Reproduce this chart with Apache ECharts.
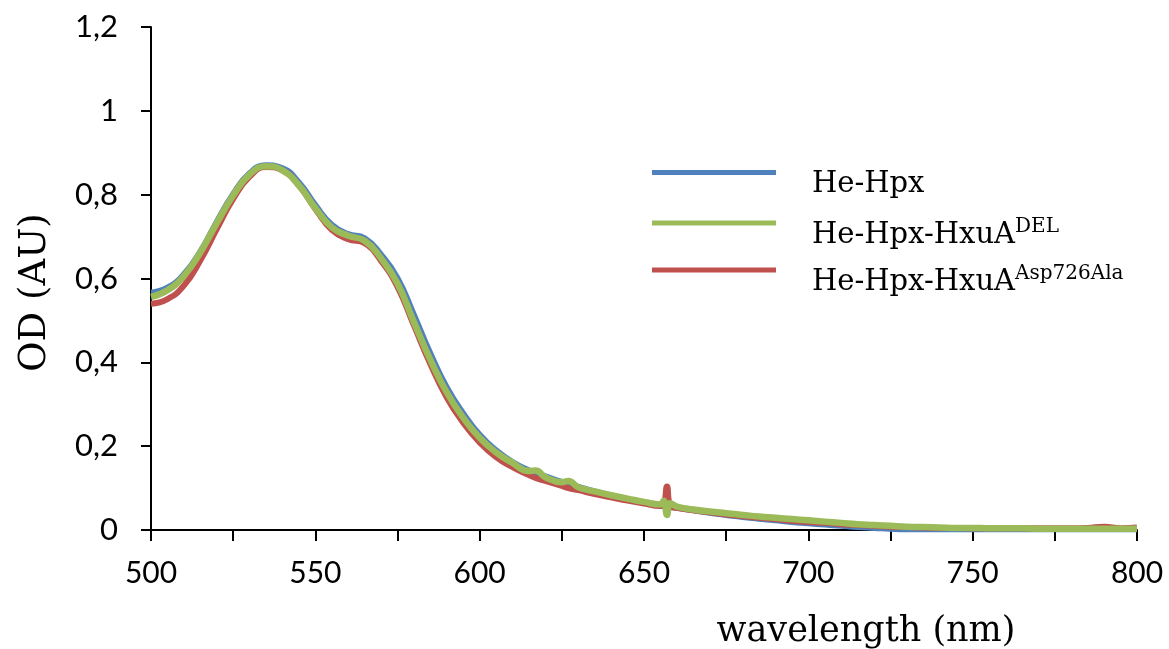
<!DOCTYPE html>
<html>
<head>
<meta charset="utf-8">
<script src="https://cdn.jsdelivr.net/npm/echarts@6/dist/echarts.min.js"></script>
<style>
html,body{margin:0;padding:0;background:#fff;}
#chart{width:1169px;height:649px;}
</style>
</head>
<body>
<div id="chart"></div>
<script>
// wavelength (nm)
const wavelengths = [500,505,510,515,520,525,530,535,540,545,550,555,560,565,570,575,580,585,590,595,600,605,610,615,617,620,625,627,630,635,640,645,650,655,656,657,658,660,665,670,675,680,685,690,695,700,705,710,715,720,725,730,735,740,745,750,755,760,765,770,775,780,785,790,795,800];

// He-Hpx (blue)
const heHpx = [0.566,0.578,0.610,0.664,0.735,0.801,0.851,0.870,0.863,0.829,0.775,0.728,0.706,0.696,0.657,0.601,0.513,0.421,0.340,0.278,0.227,0.190,0.162,0.142,0.136,0.128,0.115,0.111,0.103,0.092,0.082,0.073,0.065,0.058,0.057,0.056,0.055,0.053,0.047,0.041,0.036,0.031,0.027,0.023,0.019,0.016,0.013,0.010,0.007,0.005,0.003,0.002,0.002,0.002,0.002,0.002,0.002,0.002,0.002,0.002,0.002,0.002,0.002,0.002,0.002,0.002];

// He-Hpx-HxuA DEL (green)
const heHpxDel = [0.556,0.572,0.606,0.662,0.732,0.798,0.848,0.868,0.858,0.822,0.768,0.722,0.702,0.690,0.648,0.588,0.496,0.406,0.328,0.268,0.220,0.185,0.160,0.141,0.142,0.126,0.114,0.117,0.102,0.092,0.083,0.075,0.067,0.061,0.070,0.036,0.064,0.056,0.049,0.044,0.040,0.036,0.032,0.029,0.026,0.023,0.020,0.017,0.014,0.012,0.010,0.008,0.007,0.006,0.005,0.005,0.004,0.004,0.004,0.003,0.003,0.003,0.003,0.003,0.003,0.003];

// He-Hpx-HxuA Asp726Ala (red)
const heHpxAsp = [0.540,0.551,0.583,0.643,0.718,0.790,0.843,0.866,0.858,0.822,0.766,0.716,0.694,0.684,0.642,0.580,0.488,0.396,0.316,0.256,0.209,0.174,0.150,0.131,0.124,0.117,0.105,0.100,0.095,0.086,0.078,0.070,0.063,0.057,0.060,0.104,0.058,0.053,0.047,0.042,0.037,0.033,0.029,0.026,0.022,0.019,0.017,0.014,0.012,0.010,0.008,0.007,0.006,0.005,0.005,0.004,0.004,0.004,0.004,0.004,0.004,0.004,0.005,0.008,0.004,0.006];

const seriesNames = ['He-Hpx', 'He-Hpx-HxuA DEL', 'He-Hpx-HxuA Asp726Ala'];
const legendTexts = ['{m|He-Hpx}', '{m|He-Hpx-HxuA}{s|DEL}', '{m|He-Hpx-HxuA}{s|Asp726Ala}'];
const colors = ['#4F81BD', '#9BBB59', '#C0504D'];
const xTicks = [500, 550, 600, 650, 700, 750, 800];

const pair = arr => wavelengths.map((w, i) => [w, arr[i]]);
const chart = echarts.init(document.getElementById('chart'), null, {renderer: 'canvas'});

const labelFont = 'Lato';
const serif = 'DejaVu Serif';

function legendFor(i, top) {
  return {
    orient: 'vertical', left: 652, top: top, padding: 0,
    data: [seriesNames[i]],
    icon: 'rect', itemWidth: 124, itemHeight: 5,
    selectedMode: false,
    formatter: () => legendTexts[i],
    textStyle: {
      padding: [24, 0, 0, 31],
      rich: {
        m: {fontFamily: serif, fontSize: 29, color: '#000', lineHeight: 36},
        s: {fontFamily: serif, fontSize: 20, color: '#000', lineHeight: 24, verticalAlign: 'top'}
      }
    }
  };
}

const option = {
  animation: false,
  backgroundColor: '#fff',
  grid: {left: 151, right: 32, top: 27, bottom: 119, outerBoundsMode: 'none'},
  legend: [legendFor(0, 170), legendFor(1, 217), legendFor(2, 264)],
  xAxis: {
    type: 'value', min: 500, max: 800, interval: 25,
    name: 'wavelength (nm)', nameLocation: 'middle', nameGap: 84,
    nameTextStyle: {fontFamily: serif, fontSize: 35, color: '#000', padding: [0, 0, 0, 444]},
    axisLine: {show: true, lineStyle: {color: '#000', width: 2}},
    axisTick: {show: true, length: 11, lineStyle: {color: '#000', width: 2}},
    axisLabel: {
      color: '#000', fontFamily: labelFont, fontSize: 30, margin: 28,
      formatter: v => (xTicks.indexOf(v) >= 0 ? String(v) : '')
    },
    splitLine: {show: false}
  },
  yAxis: {
    type: 'value', min: 0, max: 1.2, interval: 0.2,
    name: 'OD (AU)', nameLocation: 'middle', nameGap: 97,
    nameTextStyle: {fontFamily: serif, fontSize: 37, color: '#000', padding: [0, 28, 0, 0]},
    axisLine: {show: true, lineStyle: {color: '#000', width: 2}},
    axisTick: {show: true, length: 10, lineStyle: {color: '#000', width: 2}},
    axisLabel: {
      color: '#000', fontFamily: labelFont, fontSize: 31, margin: 33,
      formatter: v => (v === 0 ? '0' : String(+v.toFixed(1)).replace('.', ','))
    },
    splitLine: {show: false}
  },
  series: [
    {name: seriesNames[0], type: 'line', data: pair(heHpx), showSymbol: false, smooth: 0.5,
     lineStyle: {color: colors[0], width: 6}, itemStyle: {color: colors[0]}, z: 2},
    {name: seriesNames[2], type: 'line', data: pair(heHpxAsp), showSymbol: false, smooth: 0.5,
     lineStyle: {color: colors[2], width: 6}, itemStyle: {color: colors[2]}, z: 3},
    {name: seriesNames[1], type: 'line', data: pair(heHpxDel), showSymbol: false, smooth: 0.5,
     lineStyle: {color: colors[1], width: 6.5}, itemStyle: {color: colors[1]}, z: 4}
  ]
};
chart.setOption(option);
</script>
</body>
</html>
